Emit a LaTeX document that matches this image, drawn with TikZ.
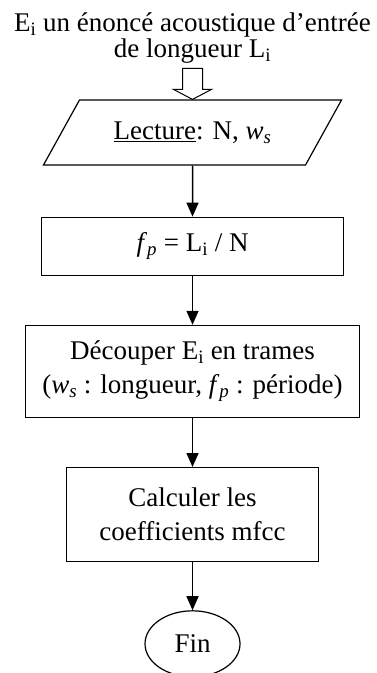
\documentclass[tikz,border=0pt]{standalone}
\usepackage{fontspec}
\setmainfont{Liberation Serif}
\usetikzlibrary{arrows.meta,positioning,shapes.geometric}

\begin{document}
\begin{tikzpicture}[
x=1pt, y=1pt,
node distance=49pt,
font=\fontsize{27}{34}\selectfont,
titre/.style={align=center, inner sep=0pt, font=\fontsize{27}{26}\selectfont},
flow/.style={draw, line width=1.2pt, align=center, inner sep=2pt},
io/.style={draw, line width=1.2pt, trapezium, trapezium left angle=41, trapezium right angle=139, trapezium stretches=true, minimum width=299pt, minimum height=65pt, inner sep=0pt},
term/.style={draw, line width=1.2pt, ellipse, minimum width=95pt, minimum height=66pt, inner sep=0pt},
arrow/.style={-{Triangle[length=14pt,width=12pt]}, line width=1.5pt},
hollow/.style={draw, line width=1pt, fill=white}
]
\useasboundingbox (0,0) rectangle (377,-673);

\node[io] (lect) at (192.5,-132.5) {\underline{Lecture}: N, \textit{w}\textsubscript{\textit{s}}};
\node[titre, above=36pt of lect] (entree) {E\textsubscript{i} un énoncé acoustique d’entrée\\de longueur L\textsubscript{i}};
\node[flow, minimum width=302pt, minimum height=58pt, below=51pt of lect] (fp) {\textit{f}\textsubscript{\textit{p}} = L\textsubscript{i} / N};
\node[flow, minimum width=334pt, minimum height=92pt, below=of fp] (trames) {Découper E\textsubscript{i} en trames\\(\textit{w}\textsubscript{\textit{s}} : longueur, \textit{f}\textsubscript{\textit{p}} : période)};
\node[flow, minimum width=252pt, minimum height=94pt, below=of trames] (mfcc) {Calculer les\\coefficients mfcc};
\node[term, below=48pt of mfcc] (fin) {Fin};

% fleche creuse
\draw[hollow] (lect.center |- lect.north) -- ++(-19,10) -- ++(9,0) -- ++(0,21) -- ++(20,0) -- ++(0,-21) -- ++(9,0) -- cycle;

\draw[arrow] (lect) -- (fp);
\draw[arrow] (fp) -- (trames);
\draw[arrow] (trames) -- (mfcc);
\draw[arrow] (mfcc) -- (fin);
\end{tikzpicture}
\end{document}
